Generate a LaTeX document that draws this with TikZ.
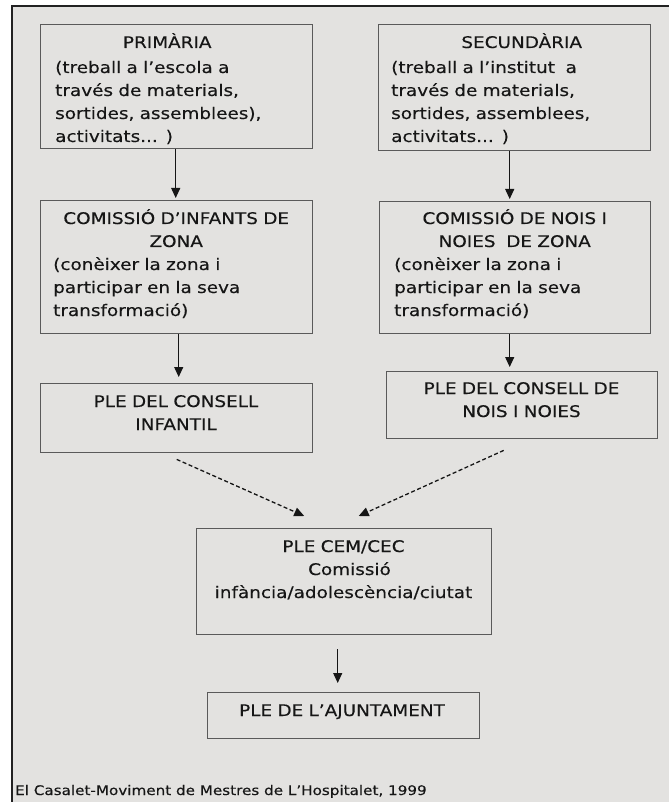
\documentclass[tikz,border=0pt]{standalone}
\usepackage{fontspec}
\setmainfont{DejaVu Sans}[FakeStretch=1.15,FakeBold=0.3]
\usetikzlibrary{arrows.meta}
\definecolor{bg}{HTML}{E3E2E0}
\definecolor{framec}{HTML}{222222}
\definecolor{edge}{HTML}{5A5A5A}
\definecolor{ink}{HTML}{161616}
\begin{document}
\begin{tikzpicture}[x=1pt,y=-1pt,
  box/.style={draw=edge, line width=1.4pt, inner sep=0pt, anchor=north west},
  txt/.style={text=ink, inner sep=0pt, font=\fontsize{16}{23}\selectfont, align=left, anchor=base west},
  ctxt/.style={text=ink, inner sep=0pt, font=\fontsize{16}{23}\selectfont, align=center, anchor=base},
  arr/.style={draw=ink, line width=1.1pt, -{Triangle[length=10pt,width=9pt]}},
  darr/.style={arr, line width=1.3pt, dash pattern=on 4pt off 2.5pt}]
\useasboundingbox (0,0) rectangle (669,802);
\fill[white] (0,0) rectangle (669,802);
\fill[bg] (12,6) rectangle (669,802);
\draw[framec, line width=2.5pt] (12,802) -- (12,6) -- (669,6);

% boxes
\node[box, minimum width=272pt, minimum height=124pt] (prim) at (40,24) {};
\node[box, minimum width=272pt, minimum height=126pt] (sec) at (378,24) {};
\node[box, minimum width=272pt, minimum height=133pt] (com) at (40,200) {};
\node[box, minimum width=271pt, minimum height=132pt] (comn) at (379,201) {};
\node[box, minimum width=272pt, minimum height=69pt] (pinf) at (40,383) {};
\node[box, minimum width=271pt, minimum height=67pt] (pnois) at (386,371) {};
\node[box, minimum width=295pt, minimum height=106pt] (cem) at (196,528) {};
\node[box, minimum width=272pt, minimum height=46pt] (ajun) at (207,692) {};

% texts
\node[txt, text width=242pt] (primt) at (55,48)
  {\makebox[\linewidth]{\hspace*{-18pt}PRIMÀRIA}\\[2pt](treball a l’escola a\\través de materials,\\sortides, assemblees),\\activitats... )};
\node[txt, text width=246pt] (sect) at (391,48)
  {\makebox[\linewidth]{\hspace*{15pt}SECUNDÀRIA}\\[2pt](treball a l’institut~ a\\través de materials,\\sortides, assemblees,\\activitats... )};
\node[txt, text width=246pt] (comt) at (53,224)
  {\makebox[\linewidth]{COMISSIÓ D’INFANTS DE}\\\makebox[\linewidth]{ZONA}\\(conèixer la zona i\\participar en la seva\\transformació)};
\node[txt, text width=241pt] (comnt) at (394,224)
  {\makebox[\linewidth]{COMISSIÓ DE NOIS I}\\\makebox[\linewidth]{NOIES~ DE ZONA}\\(conèixer la zona i\\participar en la seva\\transformació)};
\node[ctxt, text width=240pt] (pinft) at (176,407) {PLE DEL CONSELL\\INFANTIL};
\node[ctxt, text width=240pt] (pnoist) at (521.5,394) {PLE DEL CONSELL DE\\NOIS I NOIES};
\node[ctxt, text width=280pt] (cemt) at (343.5,552) {PLE CEM/CEC\\\hspace*{12pt}Comissió\\infància/adolescència/ciutat};
\node[ctxt, text width=250pt] (ajunt) at (342,716) {PLE DE L’AJUNTAMENT};
\node[anchor=base west, inner sep=0pt, text=ink, font=\fontsize{13.2}{16}\selectfont] (cap) at (15,795)
  {El Casalet-Moviment de Mestres de L’Hospitalet, 1999};

% connectors
\draw[arr, shorten >=2pt] ([xshift=-1pt]prim.south) -- ([xshift=-1pt]com.north);
\draw[arr, shorten >=2pt] ([xshift=-5pt]sec.south) -- ([xshift=-5.5pt]comn.north);
\draw[arr, shorten >=6pt] ([xshift=2pt]com.south) -- ([xshift=2pt]pinf.north);
\draw[arr, shorten >=4pt] ([xshift=-5.5pt]comn.south) -- ([xshift=-12.5pt]pnois.north);
\draw[darr] ([yshift=-6pt]pinf.south) -- ([xshift=-40pt,yshift=12pt]cem.north);
\draw[darr] ([xshift=-18.5pt,yshift=-11pt]pnois.south) -- ([xshift=14.5pt,yshift=12pt]cem.north);
\draw[arr, shorten <=14pt, shorten >=9pt] ([xshift=-6.5pt]cem.south) -- ([xshift=-6pt]ajun.north);
\end{tikzpicture}
\end{document}
